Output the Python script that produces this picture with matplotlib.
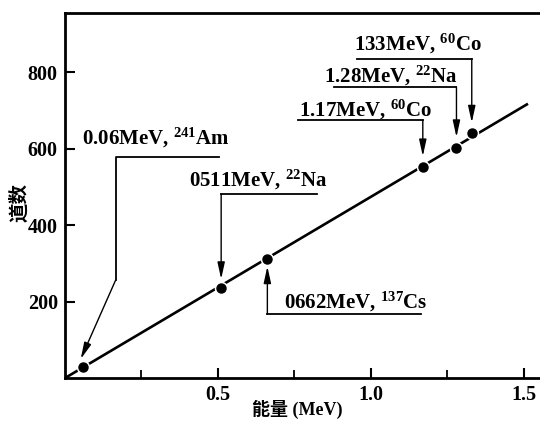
import numpy as np
import matplotlib.pyplot as plt

plt.rcParams['font.family'] = ['Liberation Serif', 'Noto Sans CJK SC']
plt.rcParams['mathtext.fontset'] = 'custom'
plt.rcParams['mathtext.rm'] = 'Liberation Serif:bold'
plt.rcParams['mathtext.default'] = 'rm'

# calibration points: gamma energy (MeV) vs channel number
energy = [0.06, 0.511, 0.662, 1.17, 1.28, 1.33]
channel = [28, 235, 312, 552, 602, 640]
labels = ["0.06MeV, $^{241}$Am", "0511MeV, $^{22}$Na", "0662MeV, $^{137}$Cs",
          "1.17MeV, $^{60}$Co", "1.28MeV, $^{22}$Na", "133MeV, $^{60}$Co"]

x = np.array(energy)
y = np.array(channel)
slope = np.sum(x * y) / np.sum(x * x)   # straight line through origin

fig = plt.figure(figsize=(5.4, 4.23), dpi=100)
ax = fig.add_axes([0.12, 0.106, 0.88, 0.863])

xs = np.array([0, 1.51])
ax.plot(xs, slope * xs, color='black', lw=1.9, zorder=2)
ax.plot(x, y, 'o', color='black', ms=7.5, mec='white', mew=2.2, zorder=3)
ax.plot(x, y, 'o', color='black', ms=6.5, zorder=4)

arrow = dict(arrowstyle='-|>,head_length=1.0,head_width=0.22', color='black',
             lw=1.0, shrinkA=0, shrinkB=0)
lk = dict(color='black', lw=1.3)
fs = 15
tk = dict(fontsize=fs, va='baseline', fontweight='bold')

# 0.06 MeV Am
ax.text(0.056, 612, labels[0], **tk)
ax.plot([0.505, 0.166, 0.166], [578, 578, 256], **lk)
ax.annotate('', xy=(energy[0] - 0.008, channel[0] + 22), xytext=(0.166, 256),
            arrowprops=arrow)

# 0.511 MeV Na
ax.text(0.405, 502, labels[1], **tk)
ax.plot([0.824, energy[1]], [481, 481], **lk)
ax.annotate('', xy=(energy[1], channel[1] + 24), xytext=(energy[1], 481),
            arrowprops=arrow)

# 0.662 MeV Cs (arrow from below)
ax.text(0.715, 183, labels[2], **tk)
ax.plot([1.163, energy[2]], [167, 167], **lk)
ax.annotate('', xy=(energy[2], channel[2] - 20), xytext=(energy[2], 167),
            arrowprops=arrow)

# 1.17, 1.28, 1.33 MeV
tops = [(0.765, 684, 674, 0.762), (0.847, 772, 761, 0.879), (0.945, 857, 834, 0.954)]
for i, (tx, ty, ly, lx) in zip([3, 4, 5], tops):
    ax.text(tx, ty, labels[i], **tk)
    ax.plot([lx, energy[i]], [ly, ly], **lk)
    ax.annotate('', xy=(energy[i], channel[i] + 28), xytext=(energy[i], ly),
                arrowprops=arrow)

ax.set_xlim(0, 1.553)
ax.set_ylim(0, 954)
ax.set_xticks([0.5, 1.0, 1.5])
ax.set_xticklabels(['0.5', '1.0', '1.5'])
ax.set_xticks([0.25, 0.75, 1.25], minor=True)
ax.set_yticks([200, 400, 600, 800])
ax.tick_params(direction='in', length=7, width=1.5, labelsize=14.5, pad=5)
ax.tick_params(which='minor', direction='in', length=6, width=1.3)
for lab in ax.get_xticklabels() + ax.get_yticklabels():
    lab.set_fontweight('bold')
ax.spines['right'].set_visible(False)
for s in ['left', 'bottom', 'top']:
    ax.spines[s].set_linewidth(2)

ax.set_xlabel('能量 (MeV)', fontsize=13, fontweight='bold')
ax.xaxis.set_label_coords(0.49, -0.06)
ax.set_ylabel('道数', fontsize=14, fontweight='bold')
ax.yaxis.set_label_coords(-0.074, 0.48)

fig.savefig('out.png', dpi=100)
